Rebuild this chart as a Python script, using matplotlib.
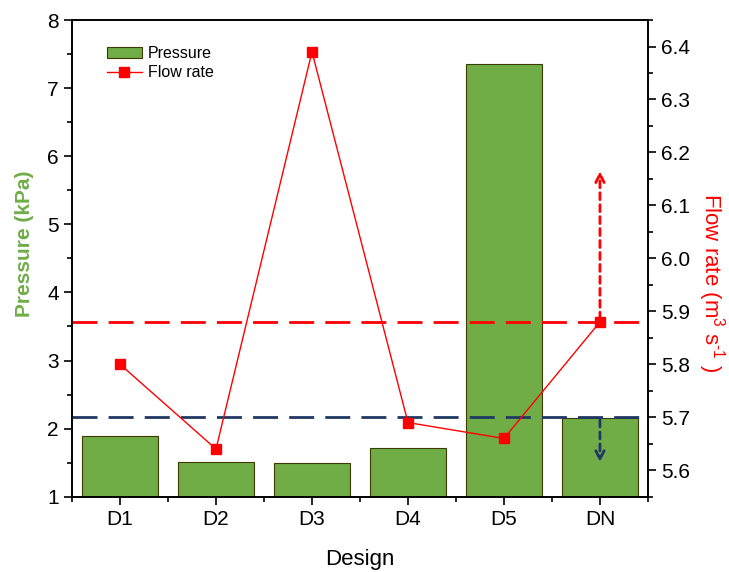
import matplotlib
matplotlib.use("Agg")
import matplotlib.pyplot as plt
import numpy as np
from matplotlib.ticker import MultipleLocator

plt.rcParams["font.family"] = ["Liberation Sans", "DejaVu Sans"]
plt.rcParams["mathtext.fontset"] = "custom"
plt.rcParams["mathtext.rm"] = "Liberation Sans"
plt.rcParams["mathtext.it"] = "Liberation Sans"

designs = ["D1", "D2", "D3", "D4", "D5", "DN"]
pressure = [1.89, 1.51, 1.49, 1.72, 7.35, 2.16]
flow_rate = [5.80, 5.64, 6.39, 5.69, 5.66, 5.88]
flow_ref_high = 5.88
flow_ref_low = 5.70
arrow_up_to = 6.17
arrow_down_to = 5.61

x = np.arange(len(designs))

fig = plt.figure(figsize=(7.29, 5.72), dpi=100)
ax = fig.add_axes([0.0988, 0.1316, 0.79, 0.8334])
ax2 = ax.twinx()

bars = ax.bar(x, pressure, 0.79, bottom=0, color="#70AD47", edgecolor="#3b3b00",
              linewidth=0.8, label="Pressure", zorder=2)
ax.set_ylim(1, 8)
ax.set_xlim(-0.5, 5.5)
ax.set_xticks(x)
ax.set_xticklabels(designs)
ax.set_xticks(np.arange(-0.5, 6, 1), minor=True)
ax.yaxis.set_major_locator(MultipleLocator(1))
ax.yaxis.set_minor_locator(MultipleLocator(0.5))
ax.set_xlabel("Design", fontsize=16)
ax.set_ylabel("Pressure (kPa)", fontsize=15, fontweight="bold", color="#70AD47")
ax.xaxis.set_label_coords(0.5, -0.11)
ax.yaxis.set_label_coords(-0.066, 0.53)

ax2.set_ylim(5.55, 6.45)
ax2.yaxis.set_major_locator(MultipleLocator(0.1))
ax2.yaxis.set_minor_locator(MultipleLocator(0.05))
ax2.set_ylabel(r"Flow rate (m$^{3}$ s$^{\mathregular{\text{-}1}}$ )", fontsize=16,
               color="#FF0000", rotation=270, va="center")
ax2.yaxis.set_label_coords(1.111, 0.45)

ax2.axhline(flow_ref_high, color="#FF0000", lw=2, ls=(0, (9, 4)), zorder=1)
ax2.axhline(flow_ref_low, color="#1F3864", lw=2, ls=(0, (9, 4)), zorder=1)
line, = ax2.plot(x, flow_rate, color="#FF0000", lw=1, marker="s", markersize=7,
                 label="Flow rate", zorder=3)

ax2.annotate("", xy=(x[-1], arrow_up_to), xytext=(x[-1], flow_ref_high),
             arrowprops=dict(arrowstyle="->", color="#FF0000", lw=2,
                             linestyle=(0, (2.5, 1.8)), mutation_scale=15))
ax2.annotate("", xy=(x[-1], arrow_down_to), xytext=(x[-1], flow_ref_low),
             arrowprops=dict(arrowstyle="->", color="#1F3864", lw=2,
                             linestyle=(0, (2.5, 1.8)), mutation_scale=15))

for a in (ax, ax2):
    a.tick_params(which="major", direction="out", length=6, width=1.2, labelsize=15)
    a.tick_params(which="minor", direction="out", length=3.5, width=1.2)
    for s in a.spines.values():
        s.set_linewidth(1.2)

ax.legend([bars, line], ["Pressure", "Flow rate"], loc="upper left",
          bbox_to_anchor=(0.035, 0.975), frameon=False, fontsize=11.5,
          handlelength=2.2, handletextpad=0.4, labelspacing=0.25)

fig.savefig("out.png", dpi=100)
